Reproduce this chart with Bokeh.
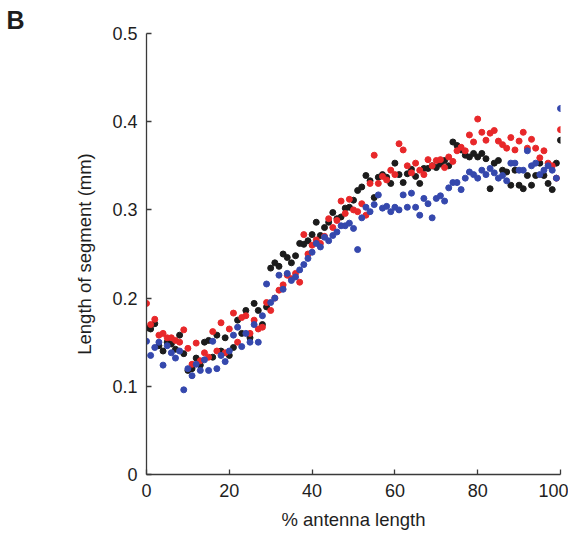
from bokeh.plotting import figure
from bokeh.models import FixedTicker, CustomJSTickFormatter, Range1d
from bokeh.embed import file_html
from bokeh.resources import INLINE

x_pct = list(range(0, 101))

black_vals = [0.166, 0.165, 0.171, 0.146, 0.140, 0.150, 0.148, 0.142, 0.158, 0.137,
              0.118, 0.120, 0.132, 0.124, 0.150, 0.152, 0.133, 0.158, 0.140, 0.155,
              0.135, 0.144, 0.175, 0.160, 0.186, 0.155, 0.194, 0.186, 0.170, 0.190,
              0.234, 0.240, 0.236, 0.250, 0.246, 0.240, 0.248, 0.262, 0.261, 0.265,
              0.272, 0.286, 0.271, 0.280, 0.286, 0.297, 0.290, 0.292, 0.302, 0.303,
              0.311, 0.322, 0.326, 0.339, 0.333, 0.314, 0.337, 0.340, 0.337, 0.330,
              0.353, 0.340, 0.331, 0.341, 0.346, 0.338, 0.330, 0.347, 0.347, 0.350,
              0.348, 0.352, 0.356, 0.350, 0.377, 0.373, 0.368, 0.362, 0.360, 0.364,
              0.360, 0.364, 0.358, 0.324, 0.353, 0.356, 0.345, 0.343, 0.328, 0.345,
              0.328, 0.324, 0.339, 0.328, 0.339, 0.353, 0.339, 0.330, 0.323, 0.353,
              0.379]

red_vals = [0.194, 0.170, 0.176, 0.158, 0.160, 0.155, 0.155, 0.152, 0.150, 0.164,
            0.143, 0.125, 0.149, 0.129, 0.138, 0.133, 0.162, 0.140, 0.172, 0.138,
            0.165, 0.183, 0.150, 0.178, 0.180, 0.160, 0.175, 0.165, 0.167, 0.195,
            0.186, 0.200, 0.209, 0.215, 0.226, 0.222, 0.228, 0.218, 0.272, 0.250,
            0.260, 0.266, 0.262, 0.270, 0.290, 0.280, 0.288, 0.310, 0.296, 0.312,
            0.300, 0.298, 0.307, 0.294, 0.330, 0.362, 0.330, 0.338, 0.334, 0.345,
            0.340, 0.375, 0.368, 0.350, 0.342, 0.353, 0.345, 0.340, 0.357, 0.350,
            0.356, 0.357, 0.348, 0.360, 0.355, 0.367, 0.371, 0.367, 0.385, 0.377,
            0.403, 0.388, 0.379, 0.387, 0.390, 0.378, 0.374, 0.370, 0.382, 0.368,
            0.378, 0.388, 0.370, 0.380, 0.370, 0.359, 0.367, 0.353, 0.350, 0.336,
            0.391]

blue_vals = [0.151, 0.135, 0.144, 0.150, 0.124, 0.146, 0.138, 0.132, 0.140, 0.096,
             0.120, 0.112, 0.125, 0.118, 0.130, 0.118, 0.151, 0.120, 0.135, 0.128,
             0.140, 0.158, 0.167, 0.145, 0.160, 0.150, 0.170, 0.150, 0.180, 0.216,
             0.195, 0.200, 0.226, 0.210, 0.228, 0.220, 0.224, 0.232, 0.238, 0.245,
             0.252, 0.262, 0.258, 0.269, 0.265, 0.271, 0.275, 0.282, 0.282, 0.285,
             0.279, 0.255, 0.291, 0.303, 0.298, 0.306, 0.317, 0.302, 0.304, 0.298,
             0.303, 0.300, 0.317, 0.303, 0.319, 0.303, 0.294, 0.313, 0.307, 0.291,
             0.313, 0.316, 0.310, 0.325, 0.331, 0.331, 0.323, 0.336, 0.343, 0.340,
             0.336, 0.345, 0.340, 0.347, 0.342, 0.336, 0.339, 0.333, 0.353, 0.353,
             0.345, 0.345, 0.367, 0.350, 0.353, 0.340, 0.345, 0.350, 0.345, 0.336,
             0.415]

x_ticks = [0, 20, 40, 60, 80, 100]
y_ticks = [0, 0.1, 0.2, 0.3, 0.4, 0.5]

FONT = "Liberation Sans"
AX = "#3a3a3a"
TXT = "#1e1e1e"

p = figure(output_backend="svg", toolbar_location=None,
           frame_width=414, frame_height=441,
           min_border_left=146, min_border_top=33, min_border_right=8, min_border_bottom=60,
           x_range=Range1d(0, 100), y_range=Range1d(0, 0.5))
p.outline_line_color = None
p.xgrid.visible = False
p.ygrid.visible = False
p.background_fill_color = "white"

p.title.text = "B"
p.title.align = "left"
p.title.offset = -140
p.title.text_font = FONT
p.title.text_font_size = "25px"
p.title.text_font_style = "bold"
p.title.text_color = TXT
p.title.standoff = 0

for ax in (p.xaxis[0], p.yaxis[0]):
    ax.axis_line_color = AX
    ax.axis_line_width = 1.3
    ax.major_tick_line_color = AX
    ax.major_tick_line_width = 1.3
    ax.major_tick_in = 5
    ax.major_tick_out = 0
    ax.minor_tick_line_color = None
    ax.major_label_text_font = FONT
    ax.major_label_text_font_size = "18px"
    ax.major_label_text_color = TXT
    ax.axis_label_text_font = FONT
    ax.axis_label_text_font_size = "18.5px"
    ax.axis_label_text_font_style = "normal"
    ax.axis_label_text_color = TXT
    ax.major_label_standoff = 9

p.xaxis.ticker = FixedTicker(ticks=x_ticks)
p.yaxis.ticker = FixedTicker(ticks=y_ticks)
p.yaxis.formatter = CustomJSTickFormatter(code="return tick == 0 ? '0' : tick.toFixed(1);")
p.xaxis.axis_label = "% antenna length"
p.yaxis.axis_label = "Length of segment (mm)"
p.xaxis.axis_label_standoff = 9
p.yaxis.axis_label_standoff = 14

p.scatter(x_pct, black_vals, size=6, color="#1c1c1c")
p.scatter(x_pct, red_vals, size=6, color="#e8282a")
p.scatter(x_pct, blue_vals, size=6, color="#3548ad")

open("out.html", "w").write(file_html(p, INLINE))
